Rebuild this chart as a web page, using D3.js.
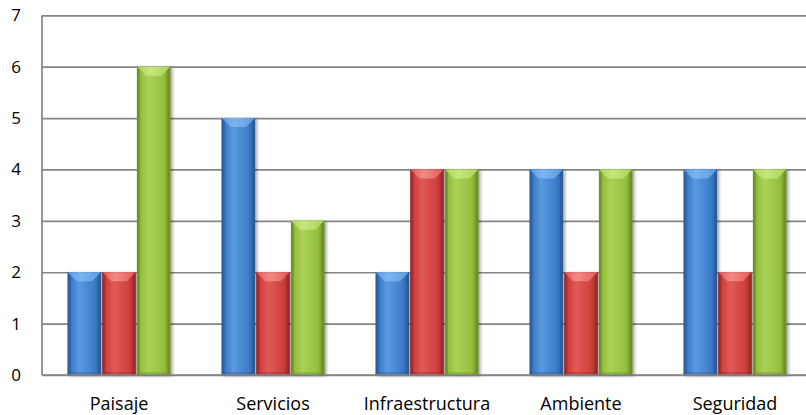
<!DOCTYPE html>
<html>
<head>
<meta charset="utf-8">
<script src="https://cdn.jsdelivr.net/npm/d3@7"></script>
<style>
  html, body { margin: 0; padding: 0; background: #fff; }
  svg { display: block; font-family: "Open Sans", "Noto Sans", sans-serif; }
</style>
</head>
<body>
<svg id="chart" width="806" height="415"></svg>
<script>
const categories = ["Paisaje", "Servicios", "Infraestructura", "Ambiente", "Seguridad"];
const seriesNames = ["Serie 1", "Serie 2", "Serie 3"];
const serie1 = [2, 5, 2, 4, 4];
const serie2 = [2, 2, 4, 2, 2];
const serie3 = [6, 3, 4, 4, 4];
const yTicks = [0, 1, 2, 3, 4, 5, 6, 7];

const palette = [
  { base: "#3d7cc9", light: "#5a9ae0", dark: "#2a5c99", top: "#7db4f0" },
  { base: "#cf3f3d", light: "#e05a57", dark: "#992a29", top: "#f08a86" },
  { base: "#94c03d", light: "#a9d256", dark: "#6c8f28", top: "#c7e67e" }
];

const svg = d3.select("#chart");
const plotLeft = 42, plotRight = 812, plotTop = 15.3, plotBottom = 375;

const x = d3.scaleBand().domain(categories).range([plotLeft, plotRight])
  .paddingInner(0.3247).paddingOuter(0.3247 / 2);
const xs = d3.scaleBand().domain(seriesNames).range([0, x.bandwidth()]).padding(0);
const y = d3.scaleLinear().domain([0, 7]).range([plotBottom, plotTop]);

const defs = svg.append("defs");
palette.forEach((c, i) => {
  const g = defs.append("linearGradient").attr("id", "body" + i)
    .attr("x1", "0").attr("x2", "1").attr("y1", "0").attr("y2", "0");
  g.append("stop").attr("offset", "0").attr("stop-color", c.dark);
  g.append("stop").attr("offset", "0.12").attr("stop-color", c.base);
  g.append("stop").attr("offset", "0.35").attr("stop-color", c.light);
  g.append("stop").attr("offset", "0.8").attr("stop-color", c.base);
  g.append("stop").attr("offset", "1").attr("stop-color", c.dark);
  const t = defs.append("linearGradient").attr("id", "top" + i)
    .attr("x1", "0").attr("x2", "1").attr("y1", "0").attr("y2", "0");
  t.append("stop").attr("offset", "0").attr("stop-color", c.light);
  t.append("stop").attr("offset", "0.4").attr("stop-color", c.top);
  t.append("stop").attr("offset", "1").attr("stop-color", c.light);
});
const f = defs.append("filter").attr("id", "shadow")
  .attr("x", "-20%").attr("y", "-5%").attr("width", "150%").attr("height", "115%");
f.append("feDropShadow").attr("dx", 2).attr("dy", 1).attr("stdDeviation", 1.5)
  .attr("flood-color", "#000").attr("flood-opacity", 0.35);

// gridlines + y axis
const yAxis = d3.axisLeft(y).tickValues(yTicks).tickFormat(d3.format("d"))
  .tickSize(-(806 - plotLeft)).tickSizeOuter(0).tickPadding(21);
const ga = svg.append("g").attr("transform", `translate(${plotLeft},0)`).call(yAxis);
ga.select(".domain").remove();
ga.selectAll(".tick line").attr("stroke", "#858585").attr("stroke-width", 1.7);
ga.selectAll(".tick text").attr("fill", "#000").attr("font-size", 17)
  .attr("font-family", "'Open Sans', sans-serif");
svg.append("line").attr("x1", plotLeft).attr("x2", plotLeft).attr("y1", y(7)).attr("y2", y(0))
  .attr("stroke", "#858585").attr("stroke-width", 1.7);

// bars
const series = [serie1, serie2, serie3];
const data = [];
categories.forEach((c, ci) => series.forEach((s, si) => data.push({ c, si, v: s[ci] })));

const gap = 0.6;
const bars = svg.append("g").selectAll("g.bar").data(data).join("g").attr("class", "bar")
  .attr("filter", "url(#shadow)");
bars.each(function (d) {
  const g = d3.select(this);
  const x0 = x(d.c) + xs(seriesNames[d.si]) + gap;
  const w = xs.bandwidth() - 2 * gap;
  const y0 = y(d.v), h = y(0) - y(d.v);
  const c = palette[d.si];
  const b = 9;
  g.append("rect").attr("x", x0).attr("y", y0).attr("width", w).attr("height", h)
    .attr("fill", `url(#body${d.si})`);
  g.append("path").attr("d",
    `M${x0},${y0} L${x0 + w},${y0} L${x0 + w - b},${y0 + b} L${x0 + b},${y0 + b} Z`)
    .attr("fill", `url(#top${d.si})`);
  g.append("path").attr("d",
    `M${x0},${y0} L${x0 + 3},${y0 + 3} L${x0 + 3},${y0 + h} L${x0},${y0 + h} Z`)
    .attr("fill", c.dark).attr("opacity", 0.55);
  g.append("path").attr("d",
    `M${x0 + w},${y0} L${x0 + w - 3},${y0 + 3} L${x0 + w - 3},${y0 + h} L${x0 + w},${y0 + h} Z`)
    .attr("fill", c.dark).attr("opacity", 0.7);
  g.append("rect").attr("x", x0).attr("y", y0 + h - 3).attr("width", w).attr("height", 3)
    .attr("fill", c.dark).attr("opacity", 0.35);
});

// baseline
svg.append("line").attr("x1", plotLeft).attr("x2", 806).attr("y1", y(0)).attr("y2", y(0))
  .attr("stroke", "#858585").attr("stroke-width", 1.7);

// x labels
const xAxis = d3.axisBottom(x).tickSize(0).tickPadding(0);
const gx = svg.append("g").attr("transform", `translate(0,${plotBottom})`).call(xAxis);
gx.select(".domain").remove();
gx.selectAll(".tick text").attr("fill", "#000").attr("font-size", 18)
  .attr("font-family", "'Open Sans', sans-serif")
  .attr("dy", null).attr("y", 35);
</script>
</body>
</html>
